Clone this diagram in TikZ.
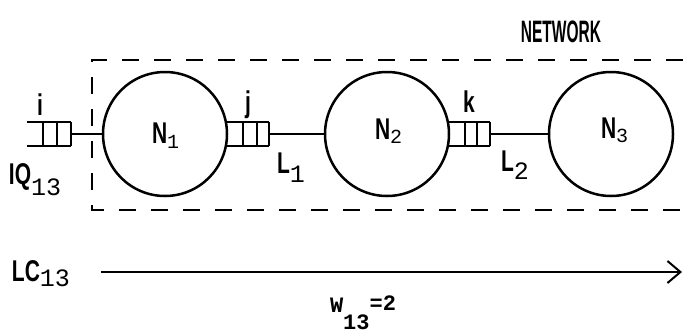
\documentclass[tikz,border=0pt]{standalone}
\usepackage{fontspec}
\usepackage{graphicx}
\setmainfont{Liberation Sans}
\newfontfamily\wfont{Liberation Mono}
\usetikzlibrary{arrows.meta}
\newcommand{\narrow}[2][0.7]{\scalebox{#1}[1]{#2}}
\newcommand{\lowsub}[3]{\raisebox{#1}{\fontsize{#2}{#2}\selectfont\wfont\mdseries #3}}

\begin{document}
\begin{tikzpicture}[x=1pt,y=-1pt,line width=2pt,
  station/.style={circle, draw, line width=2.5pt, minimum size=124pt, inner sep=0pt},
  lbl/.style={font=\fontsize{30}{30}\selectfont\bfseries, inner sep=0pt, anchor=base west},
  netbox/.style={dash pattern=on 17pt off 15pt, line width=2.2pt}]
\useasboundingbox (0,0) rectangle (683,333);

% nodes of the network
\node[station] (N1) at (165,134) {};
\node[station] (N2) at (387,134) {};
\node[station] (N3) at (611,134) {};
\node[lbl] (n1) at (151,143) {\narrow{N}\lowsub{-5pt}{20}{1}};
\node[lbl] (n2) at (374,139) {\narrow{N}\lowsub{-4pt}{20}{2}};
\node[lbl] (n3) at (600,138) {\narrow{N}\lowsub{-4pt}{20}{3}};

% network boundary
\draw[netbox] (683,60) -- (92,60) -- (92,210) -- (683,210);
\node[lbl, anchor=base, font=\fontsize{31}{31}\selectfont\bfseries] (net) at (561,42) {\narrow[0.5]{NETWORK}};

% input queue i
\draw (27,122) -- (71,122) (27,146) -- (71,146);
\foreach \x in {43,57,71}
  \draw (\x,122) -- (\x,146);
\coordinate (qi) at (71,134);
\draw (qi) -- (N1);

% queue j and link L1
\draw (226,122) -- (269,122) (226,146) -- (269,146);
\foreach \x in {243,257,269}
  \draw (\x,122) -- (\x,146);
\coordinate (qj) at (269,134);
\draw (qj) -- (N2);

% queue k and link L2
\draw (447,122) -- (490,122) (447,146) -- (490,146);
\foreach \x in {465,477,490}
  \draw (\x,122) -- (\x,146);
\coordinate (qk) at (490,134);
\draw (qk) -- (N3);

\node[lbl, anchor=base] (i) at (40,115) {\narrow{i}};
\node[lbl, anchor=base] (j) at (248,112) {\narrow{j}};
\node[lbl, anchor=base] (k) at (469,112) {\narrow{k}};
\node[lbl] (iq) at (8,184) {\narrow{IQ}\lowsub{-11pt}{25}{13}};
\node[lbl] (l1) at (276,173) {\narrow{L}\lowsub{-9pt}{25}{1}};
\node[lbl] (l2) at (500,171) {\narrow{L}\lowsub{-8pt}{25}{2}};

% logical channel
\node[lbl] (lc) at (11,281) {\narrow{LC}\lowsub{-5pt}{25}{13}};
\coordinate (lcend) at (682,272);
\draw[-{Straight Barb[length=13pt,width=22pt]}, shorten <=30pt] (lc.east |- lcend) -- (lcend);

\node[inner sep=0pt, anchor=base west, font=\wfont\bfseries\fontsize{22}{22}\selectfont] (w) at (329,312)
  {W\raisebox{-17pt}{13}\raisebox{2pt}{=2}};
\end{tikzpicture}
\end{document}
